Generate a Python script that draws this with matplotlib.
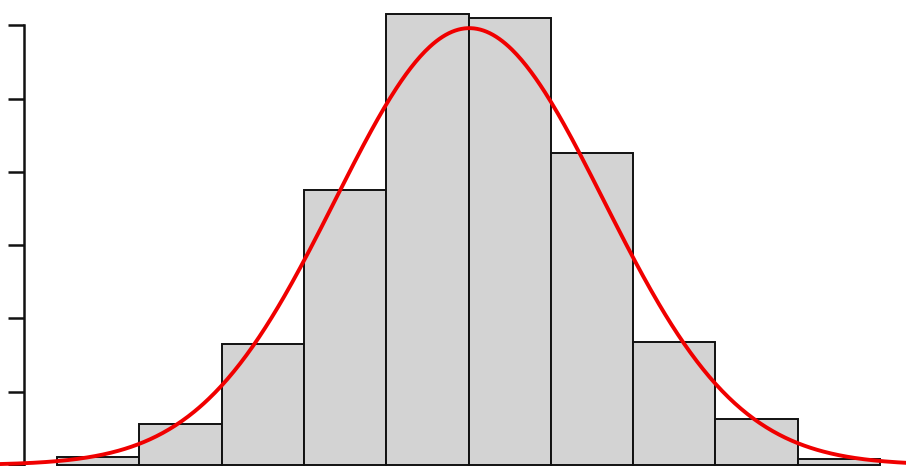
import numpy as np
import matplotlib
matplotlib.use("Agg")
import matplotlib.pyplot as plt

# Histogram (density) data
bin_edges = [-1.0, -0.8, -0.6, -0.4, -0.2, 0.0, 0.2, 0.4, 0.6, 0.8, 1.0]
densities = [0.022, 0.112, 0.330, 0.750, 1.230, 1.220, 0.850, 0.336, 0.126, 0.016]
y_ticks = [0.0, 0.2, 0.4, 0.6, 0.8, 1.0, 1.2]

# Fitted normal curve parameters
curve_mean = 0.002
curve_sd = 0.326
curve_peak = 1.192

fig = plt.figure(figsize=(9.06, 4.66), dpi=100)
ax = fig.add_axes([0, 0, 1, 1])

widths = np.diff(bin_edges)
ax.bar(bin_edges[:-1], densities, width=widths, align="edge",
       color="#d3d3d3", edgecolor="#111111", linewidth=1.4, zorder=2)

xs = np.linspace(-1.2, 1.1, 600)
ys = curve_peak * np.exp(-0.5 * ((xs - curve_mean) / curve_sd) ** 2)
ax.plot(xs, ys, color="#f00000", linewidth=2.8, zorder=3, solid_capstyle="round")

ax.set_xlim(-1.1385, 1.063)
ax.set_ylim(-0.0027, 1.2688)

for s in ["top", "right", "bottom"]:
    ax.spines[s].set_visible(False)
ax.spines["left"].set_position(("data", -1.0802))
ax.spines["left"].set_bounds(0.0, 1.2)
ax.spines["left"].set_linewidth(1.8)
ax.spines["left"].set_color("#111111")
ax.set_yticks(y_ticks)
ax.set_yticklabels([])
ax.tick_params(axis="y", direction="out", length=11.5, width=1.8, color="#111111")
ax.set_xticks([])
ax.patch.set_alpha(0)

fig.savefig("out.png", dpi=100)
